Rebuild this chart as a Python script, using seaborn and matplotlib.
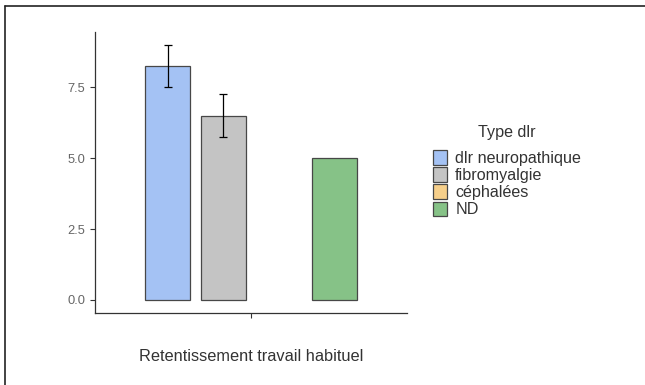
import pandas as pd
import numpy as np
import matplotlib.pyplot as plt
import seaborn as sns
from matplotlib.patches import Patch, Rectangle
from matplotlib.lines import Line2D

# données
categorie = ["Retentissement travail habituel"] * 4
types_dlr = ["dlr neuropathique", "fibromyalgie", "céphalées", "ND"]
moyennes = [8.25, 6.5, np.nan, 5.0]
err_bas = [7.5, 5.75, np.nan, np.nan]
err_haut = [9.0, 7.25, np.nan, np.nan]
couleurs = ["#A4C2F4", "#C4C4C4", "#F6CF8A", "#86C287"]
y_ticks = [0.0, 2.5, 5.0, 7.5]

df = pd.DataFrame({"cat": categorie, "type": types_dlr, "val": moyennes})

sns.set_style("ticks")
plt.rcParams["font.family"] = ["Liberation Sans", "DejaVu Sans"]

fig = plt.figure(figsize=(6.45, 3.85), dpi=100)
ax = fig.add_axes([0.147, 0.187, 0.484, 0.730])

sns.barplot(
    data=df, x="cat", y="val", hue="type", hue_order=types_dlr,
    palette=couleurs, saturation=1, width=0.9, gap=0.19, errorbar=None,
    edgecolor="#474747", linewidth=0.9, legend=False, ax=ax,
)

# barres d'erreur au centre de chaque barre
barres = [p for p in ax.patches if isinstance(p, Rectangle)]
for p, m, lo, hi in zip(barres, moyennes, err_bas, err_haut):
    if np.isnan(lo):
        continue
    xc = p.get_x() + p.get_width() / 2
    ax.errorbar(xc, m, yerr=[[m - lo], [hi - m]], fmt="none",
                ecolor="black", elinewidth=0.9, capsize=3, capthick=0.9)

ax.set_xlim(-0.632, 0.632)
ax.set_ylim(-0.46, 9.45)
ax.set_yticks(y_ticks)
ax.set_yticklabels([f"{t:.1f}" for t in y_ticks])
ax.set_xticks([0])
ax.set_xticklabels([""])
ax.set_ylabel("")
ax.set_xlabel("Retentissement travail habituel", fontsize=11.8, color="#333333", labelpad=19)
ax.tick_params(axis="both", colors="#333333", labelcolor="#666666", labelsize=9.3, length=3.5, width=0.8)
for s in ["left", "bottom"]:
    ax.spines[s].set_color("#333333")
    ax.spines[s].set_linewidth(0.9)
sns.despine(ax=ax)

handles = [Patch(facecolor=c, edgecolor="#474747", linewidth=0.9) for c in couleurs]
leg = fig.legend(handles, types_dlr, title="Type dlr", loc="upper left",
                 bbox_to_anchor=(0.662, 0.692), frameon=False, fontsize=11.6,
                 title_fontsize=11.6, handlelength=0.85, handleheight=1.05,
                 labelspacing=0.08, handletextpad=0.5, borderaxespad=0)
leg._legend_box.sep = 7
for t in leg.get_texts():
    t.set_color("#333333")
leg.get_title().set_color("#333333")

# cadre (haut et gauche seulement, capture recadrée)
fig.lines.append(Line2D([5 / 645, 1.0], [1 - 6 / 385] * 2, transform=fig.transFigure,
                        color="#222222", linewidth=1.2))
fig.lines.append(Line2D([5 / 645] * 2, [0.0, 1 - 6 / 385], transform=fig.transFigure,
                        color="#222222", linewidth=1.2))

fig.savefig("out.png", dpi=100)
